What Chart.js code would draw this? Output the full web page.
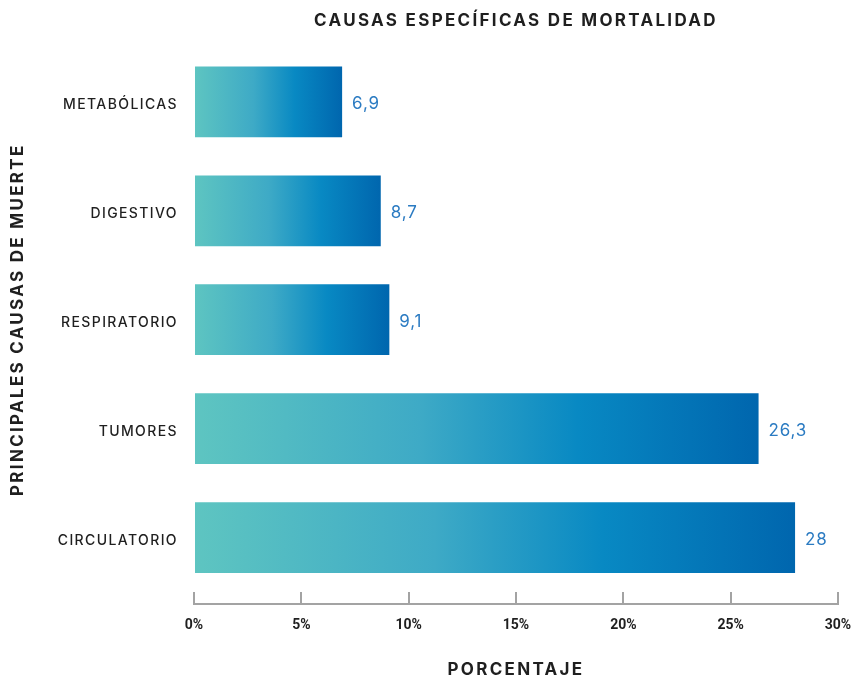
<!doctype html>
<html lang="es">
<head>
<meta charset="utf-8">
<title>Causas específicas de mortalidad</title>
<script src="https://cdn.jsdelivr.net/npm/chart.js"></script>
<style>
  html, body { margin: 0; padding: 0; background: #fff; }
  #wrap { width: 856px; height: 680px; }
</style>
</head>
<body>
<div id="wrap"><canvas id="mortalidad" width="856" height="680"></canvas></div>
<script>
  // datos
  const causas = ['METABÓLICAS', 'DIGESTIVO', 'RESPIRATORIO', 'TUMORES', 'CIRCULATORIO'];
  const porcentajes = [6.9, 8.7, 9.1, 26.3, 28];
  const ejeX = [0, 5, 10, 15, 20, 25, 30];

  const tinta = '#1f1f1f';
  const gris = '#a3a3a3';

  // envuelve una función de dibujo con otro espaciado entre letras
  function conEspaciado(obj, metodo, valor) {
    if (obj['_esp_' + metodo]) return;
    const orig = obj[metodo];
    obj[metodo] = function () {
      const ctx = this.ctx || obj.ctx;
      ctx.save();
      ctx.letterSpacing = valor;
      orig.apply(this, arguments);
      ctx.restore();
    };
    obj['_esp_' + metodo] = true;
  }

  // espaciado entre letras (el canvas lo pierde al redimensionar)
  const espaciado = {
    id: 'espaciado',
    beforeUpdate(chart) { chart.ctx.letterSpacing = '1.4px'; },
    afterUpdate(chart) {
      const { x, y } = chart.scales;
      conEspaciado(x, 'drawLabels', '0px');
      conEspaciado(x, 'drawTitle', '2.3px');
      conEspaciado(y, 'drawTitle', '2.3px');
      if (chart.titleBlock) conEspaciado(chart.titleBlock, 'draw', '2.3px');
    },
    beforeDraw(chart) { chart.ctx.letterSpacing = '1.4px'; }
  };

  // línea base del eje x, con las marcas hacia arriba
  const lineaBase = {
    id: 'lineaBase',
    afterDraw(chart) {
      const x = chart.scales.x;
      const ctx = chart.ctx;
      const y = x.top + 12;
      ctx.save();
      ctx.strokeStyle = gris;
      ctx.lineWidth = 2;
      ctx.beginPath();
      ctx.moveTo(x.getPixelForValue(ejeX[0]) - 1, y);
      ctx.lineTo(x.getPixelForValue(ejeX[ejeX.length - 1]) + 1, y);
      ctx.stroke();
      ctx.restore();
    }
  };

  // valores al final de cada barra
  const etiquetas = {
    id: 'etiquetas',
    afterDatasetsDraw(chart) {
      const ctx = chart.ctx;
      const meta = chart.getDatasetMeta(0);
      ctx.save();
      ctx.letterSpacing = '0.8px';
      ctx.font = '400 17px Inter, "Open Sans", sans-serif';
      ctx.fillStyle = '#2b7bc2';
      ctx.textAlign = 'left';
      ctx.textBaseline = 'middle';
      meta.data.forEach((bar, i) => {
        const txt = String(porcentajes[i]).replace('.', ',');
        ctx.fillText(txt, bar.x + 10, bar.y + 2);
      });
      ctx.restore();
    }
  };

  function degradado(c) {
    const chart = c.chart;
    if (!chart.chartArea) return '#0a8cc4';
    const x = chart.scales.x;
    const x0 = x.getPixelForValue(0);
    const x1 = x.getPixelForValue(c.raw);
    const g = chart.ctx.createLinearGradient(x0, 0, x1, 0);
    g.addColorStop(0, '#5ec5c1');
    g.addColorStop(0.4, '#3eaac6');
    g.addColorStop(0.68, '#0889c3');
    g.addColorStop(1, '#0066ae');
    return g;
  }

  new Chart(document.getElementById('mortalidad'), {
    type: 'bar',
    data: {
      labels: causas,
      datasets: [{
        data: porcentajes,
        backgroundColor: degradado,
        borderWidth: 0,
        barPercentage: 0.65,
        categoryPercentage: 1
      }]
    },
    options: {
      indexAxis: 'y',
      responsive: false,
      animation: false,
      layout: { padding: { left: 0, right: 18, top: 0, bottom: 0 } },
      scales: {
        x: {
          min: 0,
          max: 30,
          afterFit(scale) {
            scale.height = 88;
            scale.paddingLeft = 0;
            scale.paddingRight = 16;
          },
          afterBuildTicks(scale) { scale.ticks = ejeX.map(v => ({ value: v })); },
          ticks: {
            padding: 13,
            color: tinta,
            font: { family: 'Roboto, sans-serif', size: 14, weight: 'bold' },
            callback: v => v + '%'
          },
          grid: {
            drawOnChartArea: false,
            drawTicks: true,
            tickLength: 12,
            color: gris,
            lineWidth: 2
          },
          border: { display: false },
          title: {
            display: true,
            text: 'PORCENTAJE',
            color: tinta,
            font: { family: 'Inter, sans-serif', size: 17, weight: 'bold' },
            padding: { top: 0, bottom: 0 }
          }
        },
        y: {
          afterFit(scale) { scale.width = 194; },
          ticks: {
            padding: 16,
            labelOffset: 3,
            color: tinta,
            font: { family: 'Inter, sans-serif', size: 14, weight: '500' }
          },
          grid: { display: false, drawTicks: false },
          border: { display: false },
          title: {
            display: true,
            text: 'PRINCIPALES CAUSAS DE MUERTE',
            color: tinta,
            font: { family: 'Inter, sans-serif', size: 17, weight: 'bold' },
            padding: { top: 8, bottom: 0 }
          }
        }
      },
      plugins: {
        legend: { display: false },
        tooltip: { enabled: false },
        title: {
          display: true,
          fullSize: false,
          text: 'CAUSAS ESPECÍFICAS DE MORTALIDAD',
          color: tinta,
          font: { family: 'Inter, sans-serif', size: 17, weight: 'bold' },
          padding: { top: 11, bottom: 16 }
        }
      }
    },
    plugins: [espaciado, lineaBase, etiquetas]
  });
</script>
</body>
</html>
